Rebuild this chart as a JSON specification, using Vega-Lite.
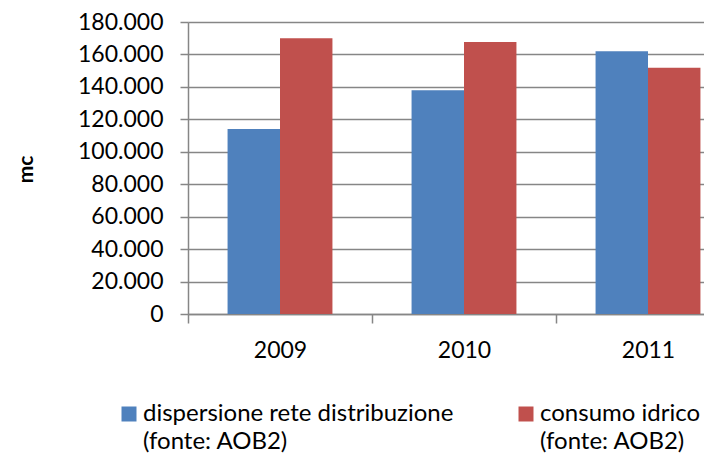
{
  "$schema": "https://vega.github.io/schema/vega-lite/v6.json",
  "width": 516,
  "height": 292,
  "autosize": {"type": "none"},
  "padding": {"left": 188, "top": 22, "right": 0, "bottom": 142},
  "background": "white",
  "config": {
    "font": "Lato",
    "view": {"stroke": null}
  },
  "data": {
    "values": [
      {"anno": "2009", "serie": "dispersione rete distribuzione (fonte: AOB2)", "valore": 114000},
      {"anno": "2009", "serie": "consumo idrico (fonte: AOB2)", "valore": 170000},
      {"anno": "2010", "serie": "dispersione rete distribuzione (fonte: AOB2)", "valore": 138000},
      {"anno": "2010", "serie": "consumo idrico (fonte: AOB2)", "valore": 167700},
      {"anno": "2011", "serie": "dispersione rete distribuzione (fonte: AOB2)", "valore": 162000},
      {"anno": "2011", "serie": "consumo idrico (fonte: AOB2)", "valore": 151800}
    ]
  },
  "mark": {"type": "bar"},
  "encoding": {
    "x": {
      "field": "anno",
      "type": "nominal",
      "scale": {"range": [0, 552], "paddingInner": 0.43, "paddingOuter": 0.215},
      "axis": {
        "title": null,
        "labelAngle": 0,
        "labelFont": "Lato",
        "labelFontSize": 23,
        "labelColor": "#000000",
        "labelPadding": 16,
        "tickOffset": -92,
        "labelOffset": 92,
        "tickSize": 9,
        "tickColor": "#868686",
        "tickWidth": 1.5,
        "domainColor": "#868686",
        "domainWidth": 1.5,
        "grid": false
      }
    },
    "xOffset": {
      "field": "serie",
      "type": "nominal",
      "scale": {"paddingInner": 0, "paddingOuter": 0},
      "sort": ["dispersione rete distribuzione (fonte: AOB2)", "consumo idrico (fonte: AOB2)"]
    },
    "y": {
      "field": "valore",
      "type": "quantitative",
      "scale": {"domain": [0, 180000], "nice": false},
      "axis": {
        "title": "mc",
        "titleFont": "Lato",
        "titleFontSize": 21,
        "titleFontWeight": "bold",
        "titleColor": "#000000",
        "titleX": -162,
        "titleY": 147,
        "titleAlign": "center",
        "titleBaseline": "middle",
        "titleAngle": -90,
        "values": [0, 20000, 40000, 60000, 80000, 100000, 120000, 140000, 160000, 180000],
        "labelExpr": "replace(format(datum.value, ','), ',', '.')",
        "labelFont": "Lato",
        "labelFontSize": 23,
        "labelColor": "#000000",
        "labelPadding": 17,
        "tickSize": 8,
        "tickColor": "#868686",
        "tickWidth": 1.5,
        "domainColor": "#868686",
        "domainWidth": 1.5,
        "grid": true,
        "gridColor": "#868686",
        "gridWidth": 1.5
      }
    },
    "color": {
      "field": "serie",
      "type": "nominal",
      "scale": {
        "domain": ["dispersione rete distribuzione (fonte: AOB2)", "consumo idrico (fonte: AOB2)"],
        "range": ["#4F81BD", "#C0504D"]
      },
      "legend": {
        "title": null,
        "orient": "none",
        "legendX": -71,
        "legendY": 380,
        "direction": "horizontal",
        "columns": 2,
        "columnPadding": 60,
        "symbolType": "square",
        "symbolSize": 225,
        "symbolStrokeWidth": 0,
        "symbolOpacity": 1,
        "labelFont": "Lato",
        "labelFontSize": 24,
        "labelColor": "#000000",
        "labelOffset": 2,
        "labelLimit": 500,
        "labelBaseline": "alphabetic",
        "labelExpr": "[slice(datum.label, 0, indexof(datum.label, ' (')), slice(datum.label, indexof(datum.label, ' (') + 1)]",
        "encode": {
          "labels": {"update": {"dy": {"value": 7}, "lineHeight": {"value": 28}}}
        }
      }
    }
  }
}
